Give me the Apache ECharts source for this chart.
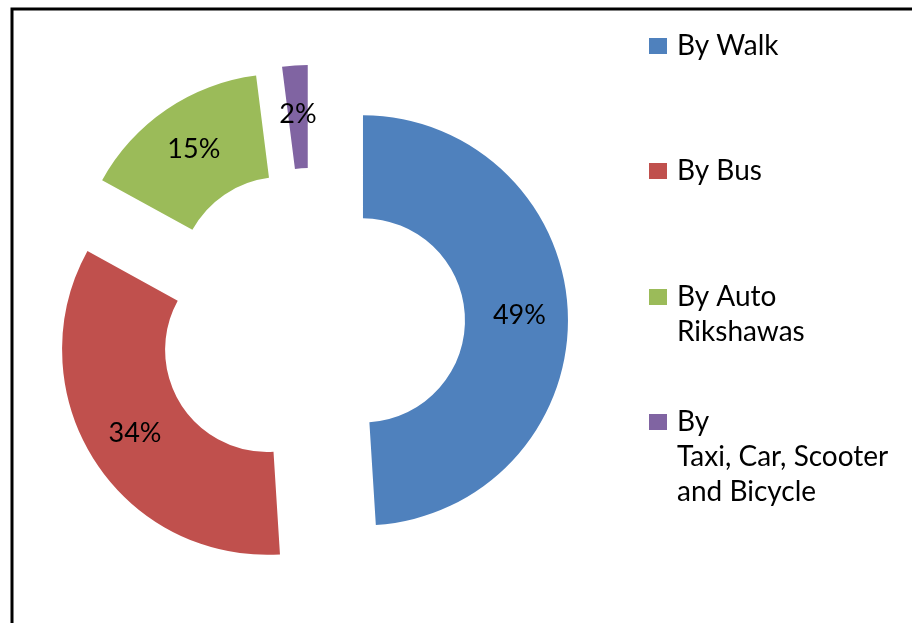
<!DOCTYPE html>
<html>
<head>
<meta charset="utf-8">
<script src="https://cdn.jsdelivr.net/npm/echarts@6/dist/echarts.min.js"></script>
<style>
  html, body { margin: 0; padding: 0; background: #fff; }
  #chart { width: 912px; height: 623px; }
</style>
</head>
<body>
<div id="chart"></div>
<script>
// travel mode share (%)
const categories = ['By Walk', 'By Bus', 'By Auto\nRikshawas', 'By\nTaxi, Car, Scooter\nand Bicycle']
const shares = [49, 34, 15, 2]
const colors = ['#4F81BD', '#C0504D', '#9BBB59', '#8064A2']

const font = 'Lato, "Open Sans", sans-serif'
const lineH = 35
// marker centre y for each legend entry
const legendCentres = [46, 171, 297, 422]

const legends = categories.map((name, i) => {
  const lines = name.split('\n').length
  // blank lines above so the first line sits level with the marker
  const total = lines * 2 - 1
  return {
    orient: 'vertical',
    left: 649,
    top: legendCentres[i] - total * lineH / 2,
    padding: 0,
    icon: 'rect',
    itemWidth: 18,
    itemHeight: 16,
    selectedMode: false,
    data: [name],
    formatter: n => '\n'.repeat(lines - 1) + n,
    textStyle: {
      fontFamily: font,
      fontSize: 28,
      color: '#000',
      lineHeight: lineH,
      padding: [0, 0, 0, 5]
    }
  }
})

const option = {
  animation: false,
  color: colors,
  legend: legends,
  graphic: [{
    type: 'rect',
    shape: { x: 12, y: 9, width: 1000, height: 1000 },
    style: { fill: 'none', stroke: '#000', lineWidth: 3 },
    silent: true
  }],
  series: [{
    type: 'pie',
    center: [311, 322],
    radius: [102, 205],
    startAngle: 90,
    clockwise: true,
    selectedMode: 'multiple',
    selectedOffset: 52,
    emphasis: { scale: false },
    label: {
      show: true,
      position: 'inner',
      formatter: '{d}%',
      fontFamily: font,
      fontSize: 27,
      color: '#000'
    },
    labelLine: { show: false },
    data: categories.map((name, i) => ({
      name,
      value: shares[i],
      selected: true
    }))
  }]
}

const myChart = echarts.init(document.getElementById('chart'))
myChart.setOption(option)
</script>
</body>
</html>
